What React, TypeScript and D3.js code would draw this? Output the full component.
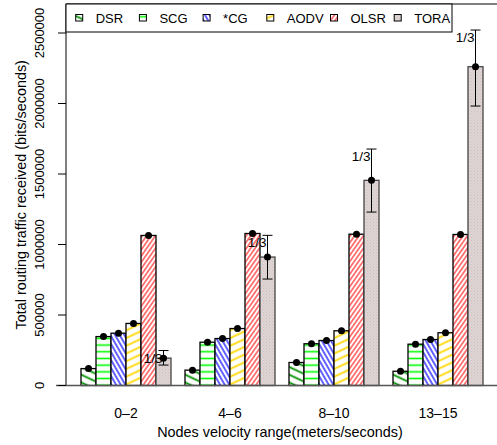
import React from "react";
import * as d3 from "d3";

const categories = ["0–2", "4–6", "8–10", "13–15"];
const seriesNames = ["DSR", "SCG", "*CG", "AODV", "OLSR", "TORA"];
const dsr = [120000, 109000, 163000, 101000];
const scg = [347000, 307000, 296000, 293000];
const cg = [371000, 333000, 319000, 326000];
const aodv = [440000, 404000, 388000, 374000];
const olsr = [1064000, 1078000, 1073000, 1071000];
const tora = [194000, 911000, 1455000, 2261000];
const toraLow = [145000, 755000, 1230000, 1982000];
const toraHigh = [248000, 1065000, 1677000, 2521000];
const toraNote = ["1/3", "1/3", "1/3", "1/3"];
const yTicks = [0, 500000, 1000000, 1500000, 2000000, 2500000];

const seriesValues = [dsr, scg, cg, aodv, olsr, tora];
const patternIds = ["pDSR", "pSCG", "pCG", "pAODV", "pOLSR", "pTORA"];

const W = 497;
const H = 445;
const FONT = "'Liberation Sans', Arial, Helvetica, sans-serif";

export default function App() {
  const x0 = d3
    .scaleBand<string>()
    .domain(categories)
    .range([74, 490])
    .paddingInner(14 / 104)
    .paddingOuter(7 / 104);
  const x1 = d3
    .scaleBand<string>()
    .domain(seriesNames)
    .range([0, x0.bandwidth()])
    .padding(0);
  const y = d3.scaleLinear().domain([0, 2500000]).range([385.5, 33]);

  const axisX = 66;
  const baseY = y(0);

  const lineStyle = (id: string, color: string, spacing: number, angle: number, sw: number, bg = "#fff") => (
    <pattern
      id={id}
      patternUnits="userSpaceOnUse"
      width={spacing}
      height={spacing}
      patternTransform={`rotate(${angle})`}
    >
      <rect width={spacing} height={spacing} fill={bg} />
      <line x1={0} y1={spacing / 2} x2={spacing} y2={spacing / 2} stroke={color} strokeWidth={sw} />
    </pattern>
  );

  return (
    <svg width={W} height={H} style={{ position: "absolute", left: 0, top: 0 }} fontFamily={FONT}>
      <defs>
        {lineStyle("pDSR", "#008f00", 7, 25, 1.8)}
        {lineStyle("pSCG", "#00ff00", 6.7, 0, 1.6)}
        {lineStyle("pCG", "#3a3aff", 4, 60, 1.6)}
        {lineStyle("pAODV", "#ffd800", 7, -25, 1.8)}
        {lineStyle("pOLSR", "#ff3a3a", 3.6, -55, 1.3)}
        <pattern id="pTORA" patternUnits="userSpaceOnUse" width={3} height={3}>
          <rect width={3} height={3} fill="#e0d5d5" />
          <rect x={0} y={0} width={1} height={1} fill="#cdc1c1" />
          <rect x={1.5} y={1.5} width={1} height={1} fill="#d3c8c8" />
        </pattern>
      </defs>

      <rect width={W} height={H} fill="#fff" />

      {/* bars */}
      {categories.map((c, ci) => (
        <g key={c} transform={`translate(${x0(c)},0)`}>
          {seriesNames.map((s, si) => {
            const v = seriesValues[si][ci];
            return (
              <rect
                key={s}
                x={x1(s)}
                y={y(v)}
                width={x1.bandwidth()}
                height={baseY - y(v)}
                fill={`url(#${patternIds[si]})`}
                stroke={si === 5 ? "#444" : "#000"}
                strokeWidth={1.3}
              />
            );
          })}
        </g>
      ))}

      {/* error bars for TORA */}
      {categories.map((c, ci) => {
        const cx = (x0(c) as number) + (x1("TORA") as number) + x1.bandwidth() / 2;
        const yl = y(toraLow[ci]);
        const yh = y(toraHigh[ci]);
        return (
          <g key={"e" + c} stroke="#000" strokeWidth={1}>
            <line x1={cx} x2={cx} y1={yl} y2={yh} />
            <line x1={cx - 5} x2={cx + 5} y1={yl} y2={yl} />
            <line x1={cx - 5} x2={cx + 5} y1={yh} y2={yh} />
            <text
              x={cx - 1}
              y={yh + 12}
              textAnchor="end"
              fontSize={13.5}
              fill="#000"
              stroke="none"
            >
              {toraNote[ci]}
            </text>
          </g>
        );
      })}

      {/* dots */}
      {categories.map((c, ci) =>
        seriesNames.map((s, si) => (
          <circle
            key={c + s}
            cx={(x0(c) as number) + (x1(s) as number) + x1.bandwidth() / 2}
            cy={y(seriesValues[si][ci])}
            r={3.5}
            fill="#000"
          />
        ))
      )}

      {/* axes frame */}
      <line x1={axisX} x2={axisX} y1={4} y2={baseY} stroke="#000" strokeWidth={1} />
      <line x1={56} x2={W} y1={baseY} y2={baseY} stroke="#555" strokeWidth={1.3} />
      <line x1={axisX} x2={W} y1={4} y2={4} stroke="#000" strokeWidth={1} />

      {yTicks.map((t) => (
        <g key={t}>
          <line x1={58} x2={axisX} y1={y(t)} y2={y(t)} stroke="#000" strokeWidth={1} />
          <text
            transform={`translate(44,${y(t)}) rotate(-90)`}
            textAnchor="middle"
            fontSize={13}
            fill="#000"
          >
            {t}
          </text>
        </g>
      ))}

      {categories.map((c) => (
        <text
          key={"xl" + c}
          x={(x0(c) as number) + x0.bandwidth() / 2}
          y={418}
          textAnchor="middle"
          fontSize={14}
          fill="#000"
        >
          {c}
        </text>
      ))}

      <text x={280} y={437} textAnchor="middle" fontSize={14.4} fill="#000">
        Nodes velocity range(meters/seconds)
      </text>
      <text
        transform={`translate(26,${(4 + baseY) / 2}) rotate(-90)`}
        textAnchor="middle"
        fontSize={14.4}
        fill="#000"
      >
        Total routing traffic received (bits/seconds)
      </text>

      {/* legend */}
      <rect x={axisX} y={4} width={386} height={28} fill="#fff" stroke="#000" strokeWidth={1} />
      {seriesNames.map((s, si) => {
        const lx = 75.7 + si * 63.7;
        return (
          <g key={"lg" + s}>
            <rect
              x={lx}
              y={14.5}
              width={7}
              height={6.5}
              fill={`url(#${patternIds[si]})`}
              stroke="#000"
              strokeWidth={1}
            />
            <text x={lx + 20} y={22.5} fontSize={13} fill="#000">
              {s}
            </text>
          </g>
        );
      })}
    </svg>
  );
}
